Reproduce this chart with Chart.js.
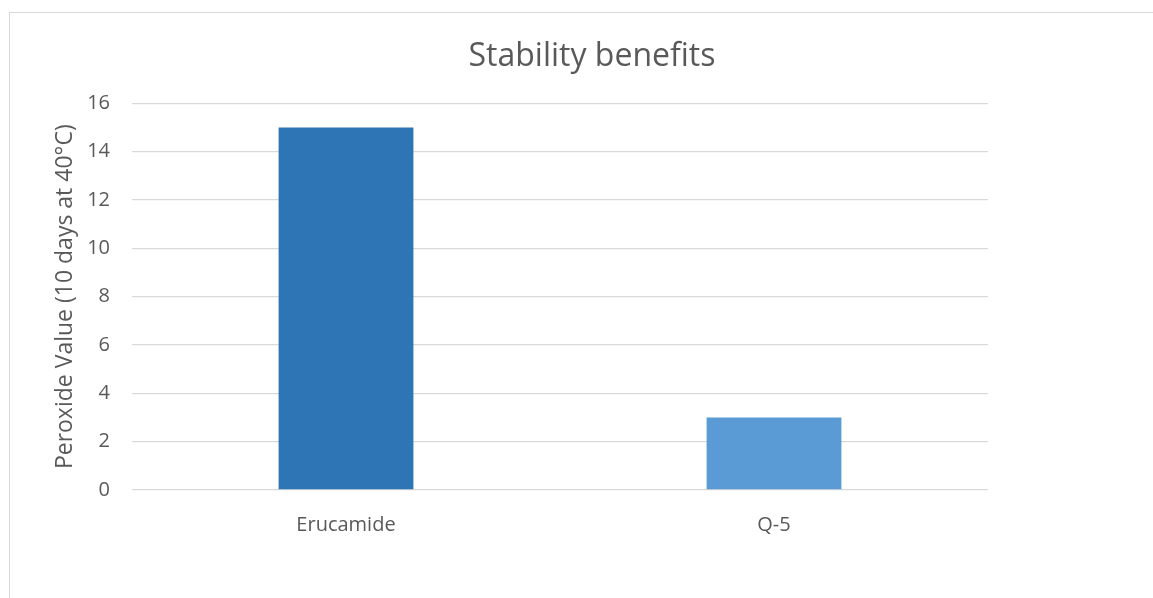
<!DOCTYPE html>
<html>
<head>
<meta charset="utf-8">
<script src="https://cdn.jsdelivr.net/npm/chart.js@4/dist/chart.umd.min.js"></script>
<style>
  html, body { margin:0; padding:0; background:#fff; overflow:hidden; }
  #wrap { position:relative; width:1153px; height:598px; overflow:hidden; }
  #frame { position:absolute; left:9px; top:12px; width:1300px; height:800px; border:1px solid #d9d9d9; box-sizing:border-box; }
  #chart-wrap { position:absolute; left:0; top:0; width:1184px; height:598px; }
</style>
</head>
<body>
<div id="wrap">
  <div id="frame"></div>
  <div id="chart-wrap"><canvas id="chart"></canvas></div>
</div>
<script>
'use strict';
// data
const categories = ['Erucamide', 'Q-5'];
const peroxideValues = [15, 3];
const yTicks = [0, 2, 4, 6, 8, 10, 12, 14, 16];

const barColors = ['#2E75B6', '#5B9BD5'];
const textColor = '#595959';
const gridColor = '#d9d9d9';
const fontFamily = '"Open Sans", "Liberation Sans", sans-serif';

const ctx = document.getElementById('chart').getContext('2d');
new Chart(ctx, {
  type: 'bar',
  data: {
    labels: categories,
    datasets: [{
      label: 'Peroxide Value',
      data: peroxideValues,
      backgroundColor: barColors,
      borderWidth: 0,
      categoryPercentage: 1,
      barPercentage: 0.315,
    }],
  },
  options: {
    responsive: true,
    maintainAspectRatio: false,
    animation: false,
    layout: { padding: { left: 0, right: 0, top: 10, bottom: 0 } },
    plugins: {
      legend: { display: false },
      tooltip: { enabled: false },
      title: {
        display: true,
        text: 'Stability benefits',
        color: textColor,
        font: { family: fontFamily, size: 32, weight: 'normal' },
        padding: { top: 28, bottom: 27 },
      },
    },
    scales: {
      x: {
        afterFit: s => { s.height = 108; },
        grid: { display: false, drawTicks: false },
        border: { display: false },
        ticks: { color: textColor, padding: 23, font: { family: fontFamily, size: 20 } },
      },
      y: {
        min: yTicks[0],
        max: yTicks[yTicks.length - 1],
        afterFit: s => { s.width = 132; },
        afterBuildTicks: s => { s.ticks = yTicks.map(v => ({ value: v })); },
        grid: { color: gridColor, lineWidth: 1.3, drawTicks: false },
        border: { display: false },
        ticks: { color: textColor, padding: 22, font: { family: fontFamily, size: 20 } },
        title: {
          display: true,
          text: 'Peroxide Value (10 days at 40°C)',
          color: textColor,
          font: { family: fontFamily, size: 23 },
          padding: { top: 52, bottom: 0 },
        },
      },
      // empty right-hand space so the title centres like the original
      spacer: {
        type: 'linear',
        position: 'right',
        afterFit: s => { s.width = 196; },
        grid: { display: false },
        border: { display: false },
        ticks: { display: false },
      },
    },
  },
});
</script>
</body>
</html>
